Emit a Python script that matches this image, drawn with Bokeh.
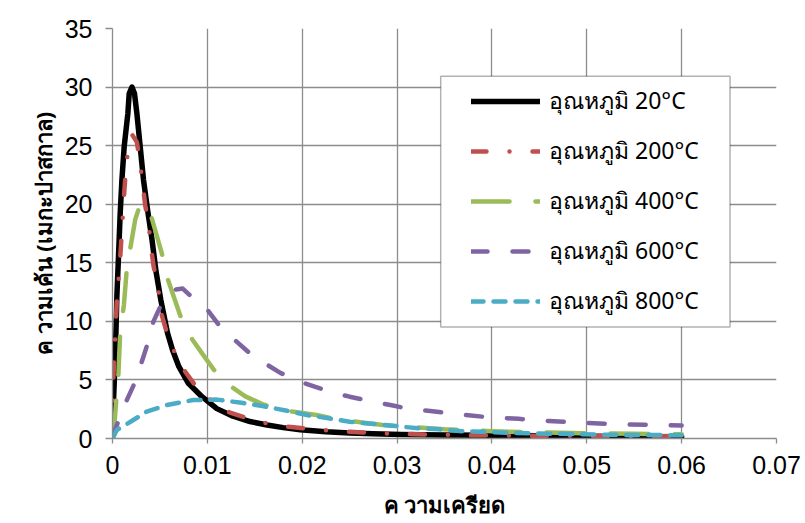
from bokeh.plotting import figure
from bokeh.models import (Legend, LegendItem, FixedTicker, NumeralTickFormatter,
                          BoxAnnotation, Range1d, Title)
from bokeh.embed import file_html
from bokeh.resources import INLINE

# ---------------- data ----------------
x_20 = [0, 0.00004, 0.00018, 0.00036, 0.00046, 0.00063, 0.00081, 0.00099, 0.00123, 0.00162,
        0.00176, 0.00205, 0.00232, 0.00257, 0.00292, 0.00327, 0.0037, 0.00416, 0.00458,
        0.0051, 0.0058, 0.00633, 0.007, 0.008, 0.00943, 0.011, 0.0127, 0.0145, 0.0163,
        0.018, 0.0198, 0.0225, 0.025, 0.0275, 0.0304, 0.035, 0.04, 0.045, 0.05, 0.055, 0.06]
y_20 = [0, 1.9, 4.7, 9.0, 12.1, 15.5, 19.2, 22.06, 24.9, 27.75,
        29.45, 30.0, 29.45, 27.75, 24.9, 22.06, 19.5, 17.0, 14.3,
        11.8, 9.0, 7.55, 6.13, 4.71, 3.57, 2.55, 1.9, 1.45, 1.15,
        0.93, 0.75, 0.58, 0.47, 0.4, 0.35, 0.3, 0.27, 0.23, 0.2, 0.17, 0.15]

x_200 = [0, 0.00004, 0.0001, 0.00018, 0.00028, 0.00039, 0.00046, 0.0006, 0.00074, 0.00092,
         0.00105, 0.00116, 0.00135, 0.00152, 0.00176, 0.0021, 0.00257, 0.00285, 0.00317,
         0.00345, 0.0038, 0.00405, 0.00433, 0.00485, 0.00503, 0.00574, 0.00627, 0.00767,
         0.0091, 0.0103, 0.0124, 0.0154, 0.0186, 0.0218, 0.025, 0.0284, 0.032, 0.036,
         0.04, 0.045, 0.05, 0.055, 0.06]
y_200 = [0, 3.6, 5.3, 7.0, 8.5, 10.6, 11.8, 13.2, 14.5, 16.8,
         18.5, 20.1, 22.3, 23.8, 25.3, 25.9, 25.3, 23.8, 21.8,
         19.9, 18.4, 16.4, 14.7, 12.7, 11.0, 9.0, 7.8, 5.7,
         4.1, 3.3, 2.2, 1.43, 1.0, 0.75, 0.58, 0.45, 0.36, 0.3,
         0.27, 0.24, 0.22, 0.2, 0.18]

x_400 = [0, 0.00018, 0.0004, 0.00063, 0.00081, 0.0012, 0.0015, 0.00195, 0.0024, 0.00292,
         0.0034, 0.004, 0.0052, 0.00574, 0.00714, 0.0082, 0.0095, 0.0107, 0.0122, 0.014,
         0.0159, 0.0189, 0.0215, 0.024, 0.0265, 0.0285, 0.031, 0.035, 0.04, 0.045, 0.05,
         0.055, 0.06]
y_400 = [0, 1.0, 3.3, 5.6, 9.0, 11.4, 14.4, 16.6, 18.7, 20.0,
         19.9, 19.2, 15.8, 13.8, 10.5, 8.7, 7.2, 5.85, 4.6, 3.6,
         2.9, 2.3, 2.0, 1.6, 1.35, 1.15, 1.0, 0.78, 0.62, 0.52, 0.44,
         0.4, 0.36]

x_600 = [0, 0.0001, 0.00074, 0.00152, 0.0024, 0.00327, 0.0037, 0.00432, 0.00503, 0.0066,
         0.0074, 0.0082, 0.01, 0.0112, 0.0129, 0.0143, 0.0161, 0.0177, 0.0198, 0.0214,
         0.0235, 0.025, 0.0275, 0.0293, 0.0314, 0.0335, 0.0365, 0.0398, 0.0428, 0.046,
         0.05, 0.0545, 0.06]
y_600 = [0, 0.44, 1.7, 3.3, 4.85, 7.0, 8.1, 10.0, 11.25, 12.7,
         12.8, 12.2, 11.0, 9.7, 8.4, 7.4, 6.4, 5.6, 4.85, 4.4,
         3.86, 3.57, 3.14, 2.86, 2.5, 2.35, 2.06, 1.8, 1.68, 1.49,
         1.32, 1.2, 1.12]

x_800 = [0, 0.00046, 0.0019, 0.0036, 0.0057, 0.0085, 0.011, 0.0136, 0.0158, 0.0184,
         0.0205, 0.0228, 0.025, 0.0276, 0.0298, 0.0322, 0.0345, 0.037, 0.0395, 0.0415,
         0.0445, 0.0495, 0.052, 0.056, 0.06]
y_800 = [0, 0.73, 1.43, 2.29, 2.86, 3.28, 3.32, 3.05, 2.77, 2.37,
         2.0, 1.72, 1.43, 1.24, 1.07, 0.87, 0.78, 0.62, 0.57, 0.5,
         0.44, 0.36, 0.32, 0.3, 0.28]

series_labels = ["อุณหภูมิ 20°C", "อุณหภูมิ 200°C", "อุณหภูมิ 400°C",
                 "อุณหภูมิ 600°C", "อุณหภูมิ 800°C"]
x_ticks = [0, 0.01, 0.02, 0.03, 0.04, 0.05, 0.06, 0.07]
y_ticks = [0, 5, 10, 15, 20, 25, 30, 35]
x_title = "ค วามเครียด"
y_title = "ค วามเค้น (เมกะปาสกาล)"

# ---------------- figure ----------------
p = figure(width=805, height=523, output_backend="svg", toolbar_location=None,
           x_range=Range1d(0, 0.07), y_range=Range1d(0, 35),
           min_border_left=112, min_border_right=29, min_border_top=28,
           min_border_bottom=85)
p.outline_line_color = None
p.background_fill_color = "white"

grey = "#8c8c8c"
for ax in (p.xaxis[0], p.yaxis[0]):
    ax.axis_line_color = grey
    ax.axis_line_width = 1.3
    ax.major_tick_line_color = grey
    ax.major_tick_line_width = 1.3
    ax.major_tick_in = 0
    ax.minor_tick_line_color = None
    ax.major_label_text_font = "Liberation Sans"
    ax.major_label_text_font_size = "25px"
    ax.major_label_text_color = "black"
    ax.axis_label_text_font = "Noto Sans"
    ax.axis_label_text_font_size = "22px"
    ax.axis_label_text_font_style = "bold"
    ax.axis_label_text_color = "black"

p.xaxis.ticker = FixedTicker(ticks=x_ticks)
p.yaxis.ticker = FixedTicker(ticks=y_ticks)
p.xaxis.formatter = NumeralTickFormatter(format="0.[00]")
p.xaxis.major_tick_out = 5
p.yaxis.major_tick_out = 7
p.xaxis.major_label_standoff = 12
p.yaxis.major_label_standoff = 13
p.xaxis.axis_label = x_title
p.xaxis.axis_label_standoff = 12

ytitle = Title(text=y_title, align="center", offset=22,
               text_font="Noto Sans", text_font_size="22px",
               text_font_style="bold", text_color="black", standoff=8)
p.add_layout(ytitle, "left")

p.xgrid.grid_line_color = grey
p.ygrid.grid_line_color = grey
p.xgrid.grid_line_width = 1.3
p.ygrid.grid_line_width = 1.3

styles = [
    (x_20, y_20, "#000000", 5.5, "solid"),
    (x_200, y_200, "#C0504D", 4.5, "15 23 0 23"),
    (x_400, y_400, "#9BBB59", 4.5, "38 26"),
    (x_600, y_600, "#8064A2", 4.5, "16 25"),
    (x_800, y_800, "#4BACC6", 4.5, "12 10"),
]
renderers = []
for xs, ys, col, w, dash in styles:
    r = p.line(xs, ys, line_color=col, line_width=w, line_dash=dash,
               line_cap="round", line_join="round")
    renderers.append(r)

box = BoxAnnotation(left=0.0346, right=0.0651, bottom=9.51, top=30.93,
                    fill_color="white", fill_alpha=1.0,
                    line_color="black", line_width=1.5)
p.add_layout(box)

legend = Legend(items=[LegendItem(label=l, renderers=[r])
                       for l, r in zip(series_labels, renderers)],
                location=(354, 112), orientation="vertical",
                glyph_width=69, glyph_height=40, label_height=40,
                label_standoff=9, spacing=10, padding=5, margin=0,
                label_text_font="Noto Sans", label_text_font_size="23px",
                label_text_color="black",
                background_fill_alpha=0, border_line_alpha=0)
p.add_layout(legend)

open("out.html", "w").write(file_html(p, INLINE))
